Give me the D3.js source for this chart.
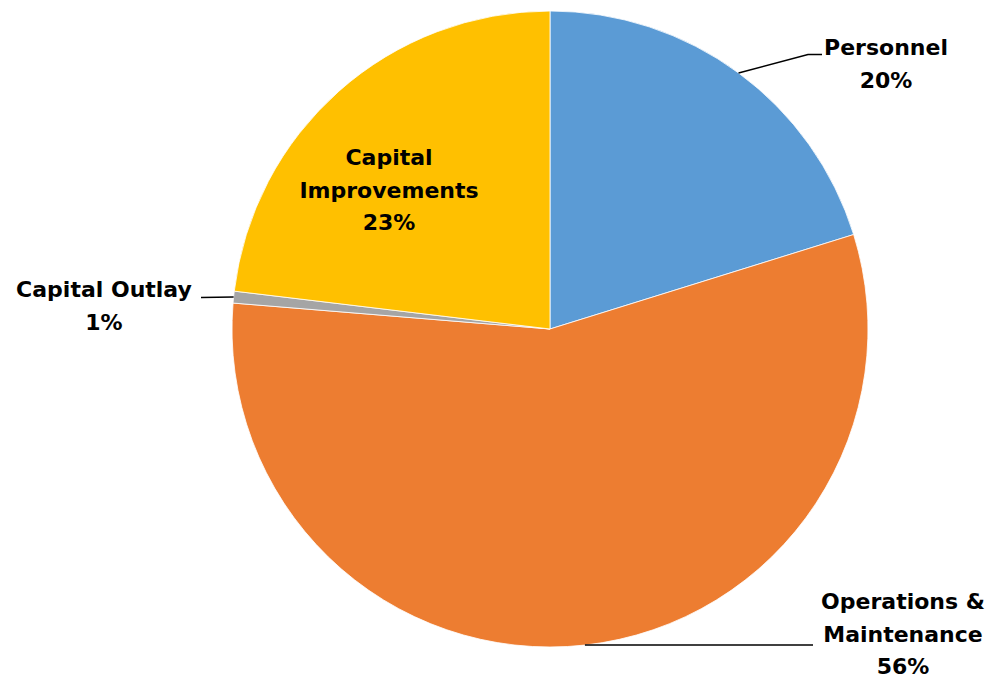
<!DOCTYPE html>
<html>
<head>
<meta charset="utf-8">
<script src="https://cdn.jsdelivr.net/npm/d3@7"></script>
<style>
  html, body { margin: 0; padding: 0; background: #fff; }
  svg { display: block; }
  .lbl { font-family: "DejaVu Sans", "Open Sans", sans-serif; font-weight: bold; font-size: 22px; fill: #000; }
</style>
</head>
<body>
<svg id="chart" width="993" height="679"></svg>
<script>
// Budget shares by category (percent of total)
const categories = ["Personnel", "Operations & Maintenance", "Capital Outlay", "Capital Improvements"];
const shares = [20.2, 56.1, 0.6, 23.1];
// Category names as they wrap onto label lines
const labelLines = [["Personnel"], ["Operations &", "Maintenance"], ["Capital Outlay"], ["Capital", "Improvements"]];
const colors = ["#5B9BD5", "#ED7D31", "#A5A5A5", "#FFC000"];

// Layout
const W = 993, H = 679;
const cx = 550, cy = 329, R = 318;
const lineGap = 32.5;
// label anchor (centre x, first baseline y) and leader path points after the edge point
const labelLayout = [
  { x: 886, y: 55,  leader: [[808, 54.5], [822, 54.5]] },
  { x: 903, y: 609, leader: [[813, 645]] },
  { x: 104, y: 297, leader: [[201, 297.5]] },
  { x: 389, y: 165, leader: null }
];

const svg = d3.select("#chart");
const g = svg.append("g").attr("transform", `translate(${cx},${cy})`);

const total = d3.sum(shares);
const pie = d3.pie().sort(null).value(d => d);
const arcs = pie(shares);
const arc = d3.arc().innerRadius(0).outerRadius(R);
const color = d3.scaleOrdinal().domain(categories).range(colors);

g.selectAll("path.slice")
  .data(arcs)
  .join("path")
  .attr("class", "slice")
  .attr("d", arc)
  .attr("fill", (d, i) => color(categories[i]))
  .attr("stroke", "#fff")
  .attr("stroke-width", 0.8);

// leader lines from slice edge midpoints
const edgePoint = d => {
  const a = (d.startAngle + d.endAngle) / 2;
  return [cx + R * Math.sin(a), cy - R * Math.cos(a)];
};
const lineGen = d3.line();
arcs.forEach((d, i) => {
  const lay = labelLayout[i];
  if (!lay.leader) return;
  const pts = [edgePoint(d)].concat(lay.leader);
  svg.append("path")
    .attr("d", lineGen(pts))
    .attr("fill", "none")
    .attr("stroke", "#000")
    .attr("stroke-width", 1.5);
});

// labels: category name lines then rounded percentage
const fmt = v => Math.round(v / total * 100) + "%";
arcs.forEach((d, i) => {
  const lay = labelLayout[i];
  const lines = labelLines[i].concat([fmt(d.value)]);
  const t = svg.append("text")
    .attr("class", "lbl")
    .attr("text-anchor", "middle");
  lines.forEach((s, k) => {
    t.append("tspan")
      .attr("x", lay.x)
      .attr("y", lay.y + k * lineGap)
      .text(s);
  });
});
</script>
</body>
</html>
